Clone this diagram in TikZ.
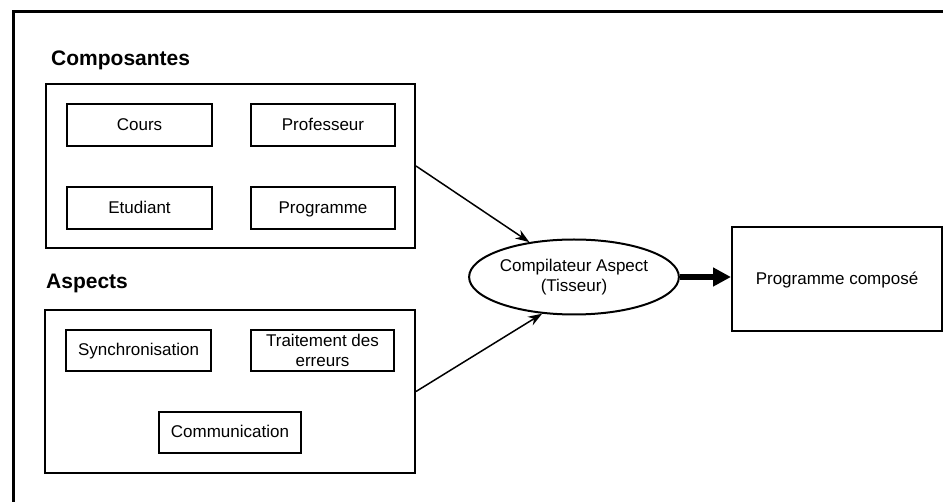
\documentclass[tikz,border=0pt]{standalone}
\usepackage{fontspec}
\setmainfont{Liberation Sans}
\usetikzlibrary{shapes.geometric,arrows.meta}
\tikzset{
  txt/.style={font=\fontsize{17}{20}\selectfont},
  groupbox/.style={draw,line width=2pt,inner sep=0pt},
  itembox/.style={draw,line width=2pt,inner sep=0pt,align=center,txt},
  oneline/.style={text height=13pt,text depth=2.5pt},
  grouplabel/.style={anchor=base west,inner sep=0pt,font=\fontsize{21}{24}\selectfont\bfseries},
  link/.style={-{Stealth[length=14pt,width=10pt]},line width=1.5pt},
}
\begin{document}
\begin{tikzpicture}[x=1pt,y=-1pt]
        \useasboundingbox (0,0) rectangle (943,502);
        \draw[line width=3pt] (13,502) -- (13,12) -- (943,12);
        % composantes
        \node[grouplabel] (lcomp) at (51,66) {Composantes};
        \node[groupbox,minimum width=369pt,minimum height=164pt] (comp) at (230.5,166) {};
        \node[itembox,oneline,minimum width=145pt,minimum height=42pt] (cours) at (139.5,125) {Cours};
        \node[itembox,oneline,minimum width=144pt,minimum height=42pt] (prof) at (323,125) {Professeur};
        \node[itembox,oneline,minimum width=145pt,minimum height=42pt] (etud) at (139.5,208) {Etudiant};
        \node[itembox,oneline,minimum width=144pt,minimum height=42pt] (prog) at (323,208) {Programme};
        % aspects
        \node[grouplabel] (lasp) at (46,289) {Aspects};
        \node[groupbox,minimum width=370pt,minimum height=163pt] (asp) at (230,391.5) {};
        \node[itembox,oneline,minimum width=145pt,minimum height=41pt] (sync) at (138.5,350.5) {Synchronisation};
        \node[itembox,minimum width=143pt,minimum height=41pt] (err) at (322.5,350.5) {Traitement des\\erreurs};
        \node[itembox,oneline,minimum width=142pt,minimum height=41pt] (comm) at (230,432.5) {Communication};
        % tisseur et resultat
        \node[ellipse,draw,line width=2pt,inner sep=0pt,minimum width=185pt,minimum height=75pt,align=center,txt] (tisseur) at (574,277) {Compilateur Aspect\\(Tisseur)};
        \node[itembox,oneline,minimum width=210pt,minimum height=104pt] (res) at (837,279) {Programme composé};
        \draw[link] (comp.east) -- (tisseur.142);
        \draw[link] (asp.east) -- (tisseur.229);
        \draw[-{Triangle[length=18pt,width=18pt]},line width=6pt] (tisseur.east) -- (tisseur.east -| res.west);
    \end{tikzpicture}
\end{document}
